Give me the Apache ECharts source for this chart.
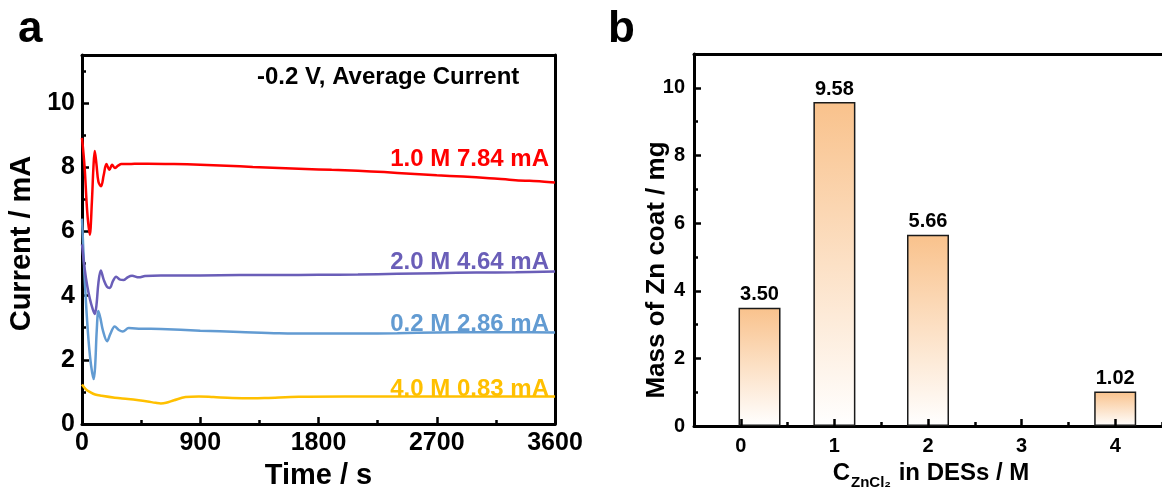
<!DOCTYPE html>
<html>
<head>
<meta charset="utf-8">
<script src="https://cdn.jsdelivr.net/npm/echarts@6/dist/echarts.min.js"></script>
<style>
html,body{margin:0;padding:0;background:#fff;}
#chart{width:1162px;height:495px;}
</style>
</head>
<body>
<div id="chart"></div>
<script>
// ---------- Panel a : chronoamperometry (-0.2 V) ----------
const tRed = [0,20,40,59,75,87,97,110,125,145,165,186,209,229,250,275,300,350,400,500,700,900,1100,1300,1500,1700,1900,2100,2300,2500,2700,2900,3100,3300,3500,3600];
const iRed = [8.92,8.0,6.6,5.9,6.9,8.0,8.51,8.1,7.55,7.41,7.75,8.1,7.92,8.08,7.98,8.05,8.1,8.1,8.11,8.11,8.1,8.08,8.05,8.01,7.98,7.95,7.92,7.89,7.85,7.8,7.75,7.71,7.66,7.6,7.56,7.53];

const tPurple = [0,20,40,60,80,97,110,125,143,165,190,211,235,260,290,318,350,381,432,480,600,900,1200,1500,1800,2100,2400,2700,3000,3300,3600];
const iPurple = [5.6,4.85,4.3,3.9,3.6,3.43,3.7,4.4,4.78,4.5,4.28,4.24,4.45,4.59,4.5,4.49,4.58,4.62,4.57,4.61,4.63,4.63,4.64,4.64,4.65,4.66,4.68,4.7,4.72,4.73,4.75];

const tBlue = [0,15,30,50,70,89,100,112,125,140,160,191,215,249,280,310,356,450,600,900,1200,1500,1800,2100,2400,2700,3000,3300,3600];
const iBlue = [6.4,5.0,3.8,2.6,1.8,1.4,1.8,2.9,3.52,3.3,2.9,2.58,2.8,3.04,2.93,2.88,2.99,2.97,2.96,2.91,2.87,2.83,2.82,2.82,2.83,2.85,2.86,2.86,2.85];

const tYellow = [0,30,60,100,150,250,350,432,500,560,600,640,700,788,890,1000,1144,1300,1400,1652,2000,2500,3000,3600];
const iYellow = [1.23,1.08,1.0,0.92,0.88,0.82,0.78,0.74,0.7,0.66,0.64,0.66,0.74,0.84,0.86,0.84,0.81,0.8,0.81,0.85,0.86,0.86,0.86,0.86];

const curveLabels = ['1.0 M 7.84 mA','2.0 M 4.64 mA','0.2 M 2.86 mA','4.0 M 0.83 mA'];
const curveColors = ['#FF0000','#6A5EB8','#629BD2','#FFC000'];

// ---------- Panel b : mass of Zn coat ----------
const conc = [0.2, 1, 2, 4];          // bar positions on the concentration axis
const mass = [3.50, 9.58, 5.66, 1.02];
const concTicks = ['0','1','2','3','4'];

const FONT = '"Liberation Sans", Arial, Helvetica, sans-serif';
const chart = echarts.init(document.getElementById('chart'), null, {renderer:'canvas'});

function pairs(t, v){ return t.map((x,i)=>[x, v[i]]); }
const black = '#000';

const lineSeries = [
  {name:'4.0 M', t:tYellow, v:iYellow, c:curveColors[3]},
  {name:'0.2 M', t:tBlue, v:iBlue, c:curveColors[2]},
  {name:'2.0 M', t:tPurple, v:iPurple, c:curveColors[1]},
  {name:'1.0 M', t:tRed, v:iRed, c:curveColors[0]}
].map(s=>({
  type:'line', name:s.name, xAxisIndex:0, yAxisIndex:0,
  data:pairs(s.t,s.v), showSymbol:false, smooth:0.35,
  lineStyle:{color:s.c, width:2.5}, itemStyle:{color:s.c}, z:3
}));

const barSeries = {
  type:'bar', xAxisIndex:2, yAxisIndex:3,
  data: conc.map((c,i)=>[c, mass[i]]),
  barWidth:42,
  itemStyle:{
    color:new echarts.graphic.LinearGradient(0,0,0,1,[{offset:0,color:'#F9C28C'},{offset:1,color:'#FFFFFF'}]),
    borderColor:'#1a1a1a', borderWidth:1.5
  },
  label:{show:true, position:'top', distance:3, color:black, fontFamily:FONT, fontWeight:'bold', fontSize:20,
    formatter:p=>p.value[1].toFixed(2)},
  z:2
};

const axisLine = {show:true, onZero:false, lineStyle:{color:black, width:3}};
const noLine = {show:false, onZero:false};

const option = {
  backgroundColor:'#fff',
  animation:false,
  grid:[
    {left:82, top:55, width:473, height:377},
    {left:694, top:54, width:475, height:383}
  ],
  xAxis:[
    { // 0 time axis
      gridIndex:0, type:'value', position:'bottom', min:0, max:3600, interval:900,
      axisLine:axisLine,
      axisTick:{show:true, inside:true, length:7, lineStyle:{color:black, width:2.5}},
      minorTick:{show:true, splitNumber:2, length:4, lineStyle:{color:black, width:2.5}},
      axisLabel:{color:black, fontFamily:FONT, fontWeight:'bold', fontSize:25, margin:7, formatter:v=>String(v)},
      splitLine:{show:false}, minorSplitLine:{show:false},
      name:'Time / s', nameLocation:'middle', nameGap:37,
      nameTextStyle:{color:black, fontFamily:FONT, fontWeight:'bold', fontSize:29}
    },
    { // 1 top border a
      gridIndex:0, type:'value', position:'top', min:0, max:3600,
      axisLine:axisLine, axisTick:{show:false}, axisLabel:{show:false}, splitLine:{show:false}
    },
    { // 2 value axis for bars
      gridIndex:1, type:'value', position:'bottom', min:-0.5, max:4.5,
      axisLine:axisLine, axisTick:{show:false}, axisLabel:{show:false}, splitLine:{show:false}
    },
    { // 3 category labels & major ticks
      gridIndex:1, type:'category', position:'bottom', data:concTicks, boundaryGap:true, z:10,
      axisLine:noLine,
      axisTick:{show:true, inside:true, alignWithLabel:true, length:7, lineStyle:{color:black, width:2.5}},
      axisLabel:{color:black, fontFamily:FONT, fontWeight:'bold', fontSize:20, margin:10},
      splitLine:{show:false},
      name:'{c|C}{s|ZnCl₂}{n| in DESs / M}', nameLocation:'middle', nameGap:25,
      nameTextStyle:{color:black, fontFamily:FONT, fontWeight:'bold', fontSize:24, padding:[0,0,0,6],
        rich:{
          c:{fontFamily:FONT, fontWeight:'bold', fontSize:24, color:black, lineHeight:30, verticalAlign:'top'},
          s:{fontFamily:FONT, fontWeight:'bold', fontSize:15, color:black, lineHeight:15, padding:[14,1,0,1], verticalAlign:'top'},
          n:{fontFamily:FONT, fontWeight:'bold', fontSize:24, color:black, lineHeight:30, verticalAlign:'top'}
        }}
    },
    { // 4 minor ticks b (category boundaries)
      gridIndex:1, type:'category', position:'bottom', data:concTicks, boundaryGap:true, z:10,
      axisLine:noLine,
      axisTick:{show:true, inside:true, alignWithLabel:false, length:4, lineStyle:{color:black, width:2.5}},
      axisLabel:{show:false}, splitLine:{show:false}
    },
    { // 5 top border b
      gridIndex:1, type:'value', position:'top', min:-0.5, max:4.5,
      axisLine:axisLine, axisTick:{show:false}, axisLabel:{show:false}, splitLine:{show:false}
    }
  ],
  yAxis:[
    { // 0 current axis
      gridIndex:0, type:'value', position:'left', min:0, max:11.5, interval:2,
      axisLine:axisLine,
      axisTick:{show:true, inside:true, length:7, lineStyle:{color:black, width:2.5}},
      axisLabel:{color:black, fontFamily:FONT, fontWeight:'bold', fontSize:25, margin:7, showMaxLabel:false},
      splitLine:{show:false},
      name:'Current / mA', nameLocation:'middle', nameGap:46, nameRotate:90,
      nameTextStyle:{color:black, fontFamily:FONT, fontWeight:'bold', fontSize:29, padding:[0,8,0,0]}
    },
    { // 1 minor ticks a
      gridIndex:0, type:'value', position:'left', min:0, max:11.5, interval:1,
      axisLine:noLine,
      axisTick:{show:true, inside:true, length:4, lineStyle:{color:black, width:2.5}},
      axisLabel:{show:false}, splitLine:{show:false}
    },
    { // 2 right border a
      gridIndex:0, type:'value', position:'right', min:0, max:11.5,
      axisLine:axisLine, axisTick:{show:false}, axisLabel:{show:false}, splitLine:{show:false}
    },
    { // 3 mass axis
      gridIndex:1, type:'value', position:'left', min:0, max:11, interval:2,
      axisLine:axisLine,
      axisTick:{show:true, inside:true, length:7, lineStyle:{color:black, width:2.5}},
      axisLabel:{color:black, fontFamily:FONT, fontWeight:'bold', fontSize:20, margin:9, showMaxLabel:false},
      splitLine:{show:false},
      name:'Mass of Zn coat / mg', nameLocation:'middle', nameGap:24, nameRotate:90, nameMoveOverlap:false,
      nameTextStyle:{color:black, fontFamily:FONT, fontWeight:'bold', fontSize:26, padding:[0,60,0,0]}
    },
    { // 4 minor ticks b
      gridIndex:1, type:'value', position:'left', min:0, max:11, interval:1,
      axisLine:noLine,
      axisTick:{show:true, inside:true, length:4, lineStyle:{color:black, width:2.5}},
      axisLabel:{show:false}, splitLine:{show:false}
    }
  ],
  graphic:[
    {type:'text', left:18, top:8, style:{text:'a', font:'bold 44px '+FONT, fill:black}},
    {type:'text', left:608, top:8, style:{text:'b', font:'bold 44px '+FONT, fill:black}},
    {type:'text', x:257, y:77, style:{text:'-0.2 V, Average Current', font:'bold 24px '+FONT, fill:black, align:'left', verticalAlign:'middle'}},
    {type:'text', x:549, y:159, style:{text:curveLabels[0], font:'bold 24px '+FONT, fill:curveColors[0], align:'right', verticalAlign:'middle'}},
    {type:'text', x:549, y:262, style:{text:curveLabels[1], font:'bold 24px '+FONT, fill:curveColors[1], align:'right', verticalAlign:'middle'}},
    {type:'text', x:549, y:324, style:{text:curveLabels[2], font:'bold 24px '+FONT, fill:curveColors[2], align:'right', verticalAlign:'middle'}},
    {type:'text', x:549, y:389, style:{text:curveLabels[3], font:'bold 24px '+FONT, fill:curveColors[3], align:'right', verticalAlign:'middle'}}
  ],
  series:[...lineSeries, barSeries]
};
chart.setOption(option);
</script>
</body>
</html>
